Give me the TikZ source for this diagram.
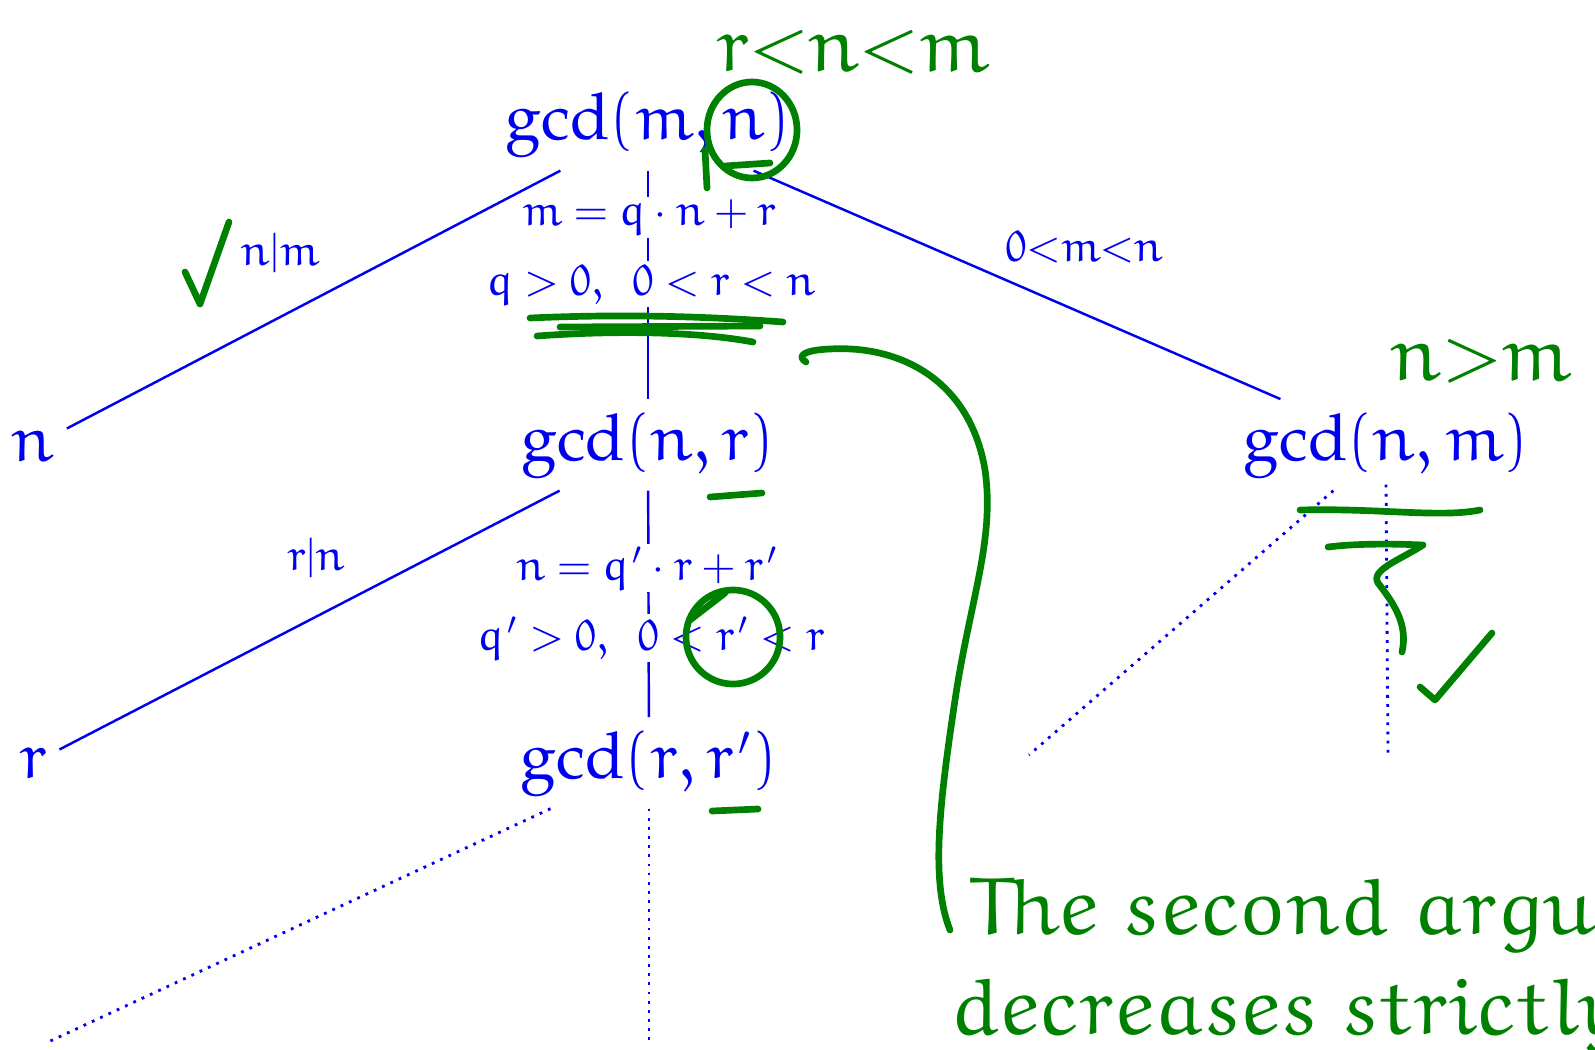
\documentclass[tikz,border=0pt]{standalone}
\usepackage{palatino}
\usepackage{euler}
\usetikzlibrary{positioning}
\definecolor{inkblue}{RGB}{0,0,240}
\definecolor{inkgreen}{RGB}{0,128,0}

\tikzset{
  term/.style={text=inkblue,font=\fontsize{18.4}{22}\selectfont,anchor=base},
  cond/.style={text=inkblue,font=\fontsize{12.5}{15}\selectfont,inner sep=1pt,anchor=base},
  branch/.style={draw=inkblue,line width=0.7pt},
  pending/.style={draw=inkblue,line width=0.8pt,dash pattern=on 0.8pt off 1.8pt},
  pen/.style={draw=inkgreen,line width=1.9pt,line cap=round,line join=round},
  scribble/.style={text=inkgreen,inner sep=0pt,anchor=base west}
}

\begin{document}
\begin{tikzpicture}[x=0.01cm,y=-0.01cm]
  \useasboundingbox (0,0) rectangle (1595,1049);
  \clip (0,0) rectangle (1595,1049);

  % Calls of gcd
  \node[term] (top)   at (648,140)  {$\gcd(m,n)$};
  \node[term] (mid)   at (648,460)  {$\gcd(n,r)$};
  \node[term] (low)   at (649,778)  {$\gcd(r,r')$};
  \node[term] (swap)  at (1386,460) {$\gcd(n,m)$};
  \node[term] (leafn) at (33,461)   {$n$};
  \node[term] (leafr) at (33,778)   {$r$};

  % Open ends
  \coordinate (swapL) at (1029,755);
  \coordinate (swapD) at (1388,755);
  \coordinate (lowL)  at (46,1043);
  \coordinate (lowD)  at (649,1043);

  % Branches
  \draw[branch] (top) -- (leafn);
  \draw[branch] (top) -- (swap);
  \draw[branch] (top) -- (mid);
  \draw[branch] (mid) -- (leafr);
  \draw[branch] (mid) -- (low);
  \draw[pending] (swap) -- (swapL);
  \draw[pending] (swap.south) ++(0,-6) -- (swapD);
  \draw[pending] (low) -- (lowL);
  \draw[pending] (low) -- (lowD);

  % Branch conditions
  \node[cond] (div1) at (280,266) {$n|m$};
  \node[cond] (div2) at (316,570) {$r|n$};
  \node[cond] (less) at (1084,262) {$0{<}m{<}n$};
  \node[cond,fill=white] (eq1)   at (649,226) {$m = q\cdot n + r$};
  \node[cond,fill=white] (ineq1) at (651,295) {$q>0,\ \,0<r<n$};
  \node[cond,fill=white] (eq2)   at (647,580) {$n = q'\cdot r + r'$};
  \node[cond,fill=white] (ineq2) at (651,650) {$q'>0,\ \,0<r'<r$};

  % Annotations in green
  \node[scribble,font=\fontsize{22}{26}\selectfont] (order1) at (716,72) {$r{<}n{<}m$};
  \node[scribble,font=\fontsize{22}{26}\selectfont] (order2) at (1390,380) {$n{>}m$};
  \node[scribble,font=\fontsize{23}{27}\selectfont] (note1) at (968,934) {$The\ second\ argument$};
  \node[scribble,font=\fontsize{23}{27}\selectfont] (note2) at (950,1034) {$decreases\ strictly$};

  \draw[pen] (752,130) ellipse [x radius=0.45cm, y radius=0.48cm];
  \draw[pen] (707,188) -- (705,150);
  \draw[pen] (725,166) -- (770,163);
  \draw[pen] (530,318) .. controls (620,314) and (700,316) .. (783,322);
  \draw[pen] (560,327) -- (760,326);
  \draw[pen] (537,336) .. controls (620,330) and (700,332) .. (753,342);
  \draw[pen] (710,497) -- (762,493);
  \draw[pen] (733,637) circle [radius=0.47cm];
  \draw[pen] (690,620) -- (725,593);
  \draw[pen] (712,811) -- (758,809);

  \draw[pen] (806,362) .. controls (796,356) and (804,350) .. (830,349)
    .. controls (900,345) and (970,380) .. (985,470)
    .. controls (995,540) and (970,600) .. (955,700)
    .. controls (940,800) and (930,880) .. (950,930);

  \draw[pen] (1300,510) .. controls (1380,508) and (1440,518) .. (1480,510);
  \draw[pen] (1328,547) .. controls (1360,543) and (1400,544) .. (1423,545)
    .. controls (1400,560) and (1370,570) .. (1378,583)
    .. controls (1395,605) and (1408,625) .. (1402,652);

  % Ticks
  \draw[pen] (185,272) -- (200,304) -- (229,222);
  \draw[pen] (1420,687) -- (1435,700) -- (1492,633);
\end{tikzpicture}
\end{document}
